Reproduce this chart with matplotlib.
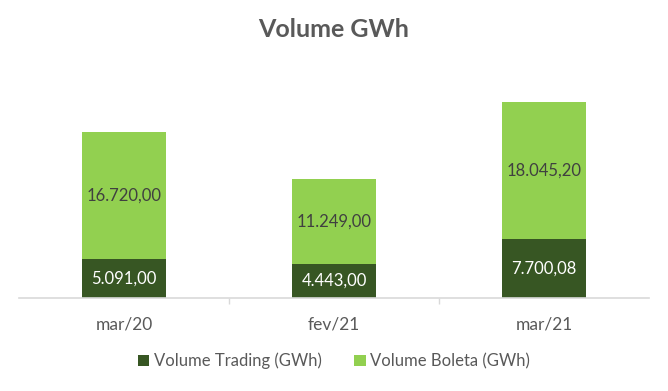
import matplotlib
matplotlib.use("Agg")
import matplotlib.pyplot as plt
import numpy as np

categories = ["mar/20", "fev/21", "mar/21"]
trading = [5091.00, 4443.00, 7700.08]
boleta = [16720.00, 11249.00, 18045.20]

def fmt(v):
    s = f"{v:,.2f}"
    return s.replace(",", "X").replace(".", ",").replace("X", ".")

plt.rcParams["font.family"] = ["Lato", "DejaVu Sans"]

fig = plt.figure(figsize=(6.68, 3.91), dpi=100)
ax = fig.add_axes([0.0284, 0.2379, 0.9432, 0.583])

x = np.arange(len(categories))
dark = "#375623"
light = "#92D050"
b1 = ax.bar(x, trading, width=0.4, color=dark, label="Volume Trading (GWh)")
b2 = ax.bar(x, boleta, width=0.4, bottom=trading, color=light, label="Volume Boleta (GWh)")

for i in range(len(x)):
    ax.text(x[i], trading[i] / 2, fmt(trading[i]), ha="center", va="center",
            color="white", fontsize=12)
    ax.text(x[i], trading[i] + boleta[i] / 2, fmt(boleta[i]), ha="center", va="center",
            color="#404040", fontsize=12)

ax.set_xlim(-0.5, 2.5)
ax.set_ylim(0, 30000)
ax.set_yticks([])
for s in ["top", "right", "left"]:
    ax.spines[s].set_visible(False)
ax.spines["bottom"].set_color("#d9d9d9")
ax.spines["bottom"].set_linewidth(1.2)

ax.set_xticks(x)
ax.set_xticklabels(categories, fontsize=12.5, color="#595959")
ax.tick_params(axis="x", which="major", length=0, pad=13)
ax.set_xticks([0.5, 1.5], minor=True)
ax.tick_params(axis="x", which="minor", length=4, color="#d9d9d9", width=1)

fig.text(0.5, 0.925, "Volume GWh", ha="center", va="center", fontsize=18,
         fontweight="bold", color="#595959")

fig.legend(handles=[b1, b2], loc="center", bbox_to_anchor=(0.5, 0.077), ncol=2,
           frameon=False, fontsize=12, labelcolor="#595959", handlelength=0.7,
           handleheight=0.7, handletextpad=0.3, columnspacing=1.9)

fig.savefig("out.png", dpi=100)
